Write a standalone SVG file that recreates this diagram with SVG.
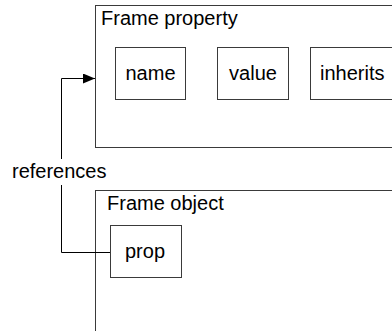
<svg xmlns="http://www.w3.org/2000/svg" width="392" height="331" viewBox="0 0 392 331">
  <defs>
    <marker id="arrow" viewBox="0 0 12 10" refX="12" refY="5" markerWidth="12" markerHeight="10" markerUnits="userSpaceOnUse" orient="auto">
      <path d="M0,0 L12,5 L0,10 Z" fill="#000"/>
    </marker>
  </defs>
  <style>
    .box { fill: #fff; stroke: #3a3a3a; stroke-width: 1; }
    .lbl { font-family: "Liberation Sans", Arial, sans-serif; font-size: 20px; fill: #000; }
    .mid { text-anchor: middle; }
    .wire { fill: none; stroke: #000; stroke-width: 1; }
  </style>
  <rect width="392" height="331" fill="#fff"/>

  <g id="frame-property">
    <rect class="box" x="95.5" y="5.5" width="310" height="142"/>
    <text class="lbl" x="101" y="25">Frame property</text>
  </g>
  <g id="name">
    <rect class="box" x="115.5" y="47.5" width="70" height="52"/>
    <text class="lbl mid" x="150.5" y="80">name</text>
  </g>
  <g id="value">
    <rect class="box" x="217.5" y="47.5" width="71" height="52"/>
    <text class="lbl mid" x="253" y="80">value</text>
  </g>
  <g id="inherits">
    <rect class="box" x="310.5" y="47.5" width="90" height="52"/>
    <text class="lbl" x="320" y="80">inherits</text>
  </g>

  <g id="frame-object">
    <rect class="box" x="95.5" y="190.5" width="310" height="150"/>
    <text class="lbl" x="107" y="210">Frame object</text>
  </g>

  <g id="connectors">
    <polyline class="wire" points="110,252.5 61.5,252.5 61.5,185"/>
    <polyline class="wire" points="61.5,159 61.5,78.5 95,78.5" marker-end="url(#arrow)"/>
    <text class="lbl" x="12" y="178">references</text>
  </g>

  <g id="prop">
    <rect class="box" x="110.5" y="225.5" width="71" height="52"/>
    <text class="lbl mid" x="145" y="258">prop</text>
  </g>
</svg>
